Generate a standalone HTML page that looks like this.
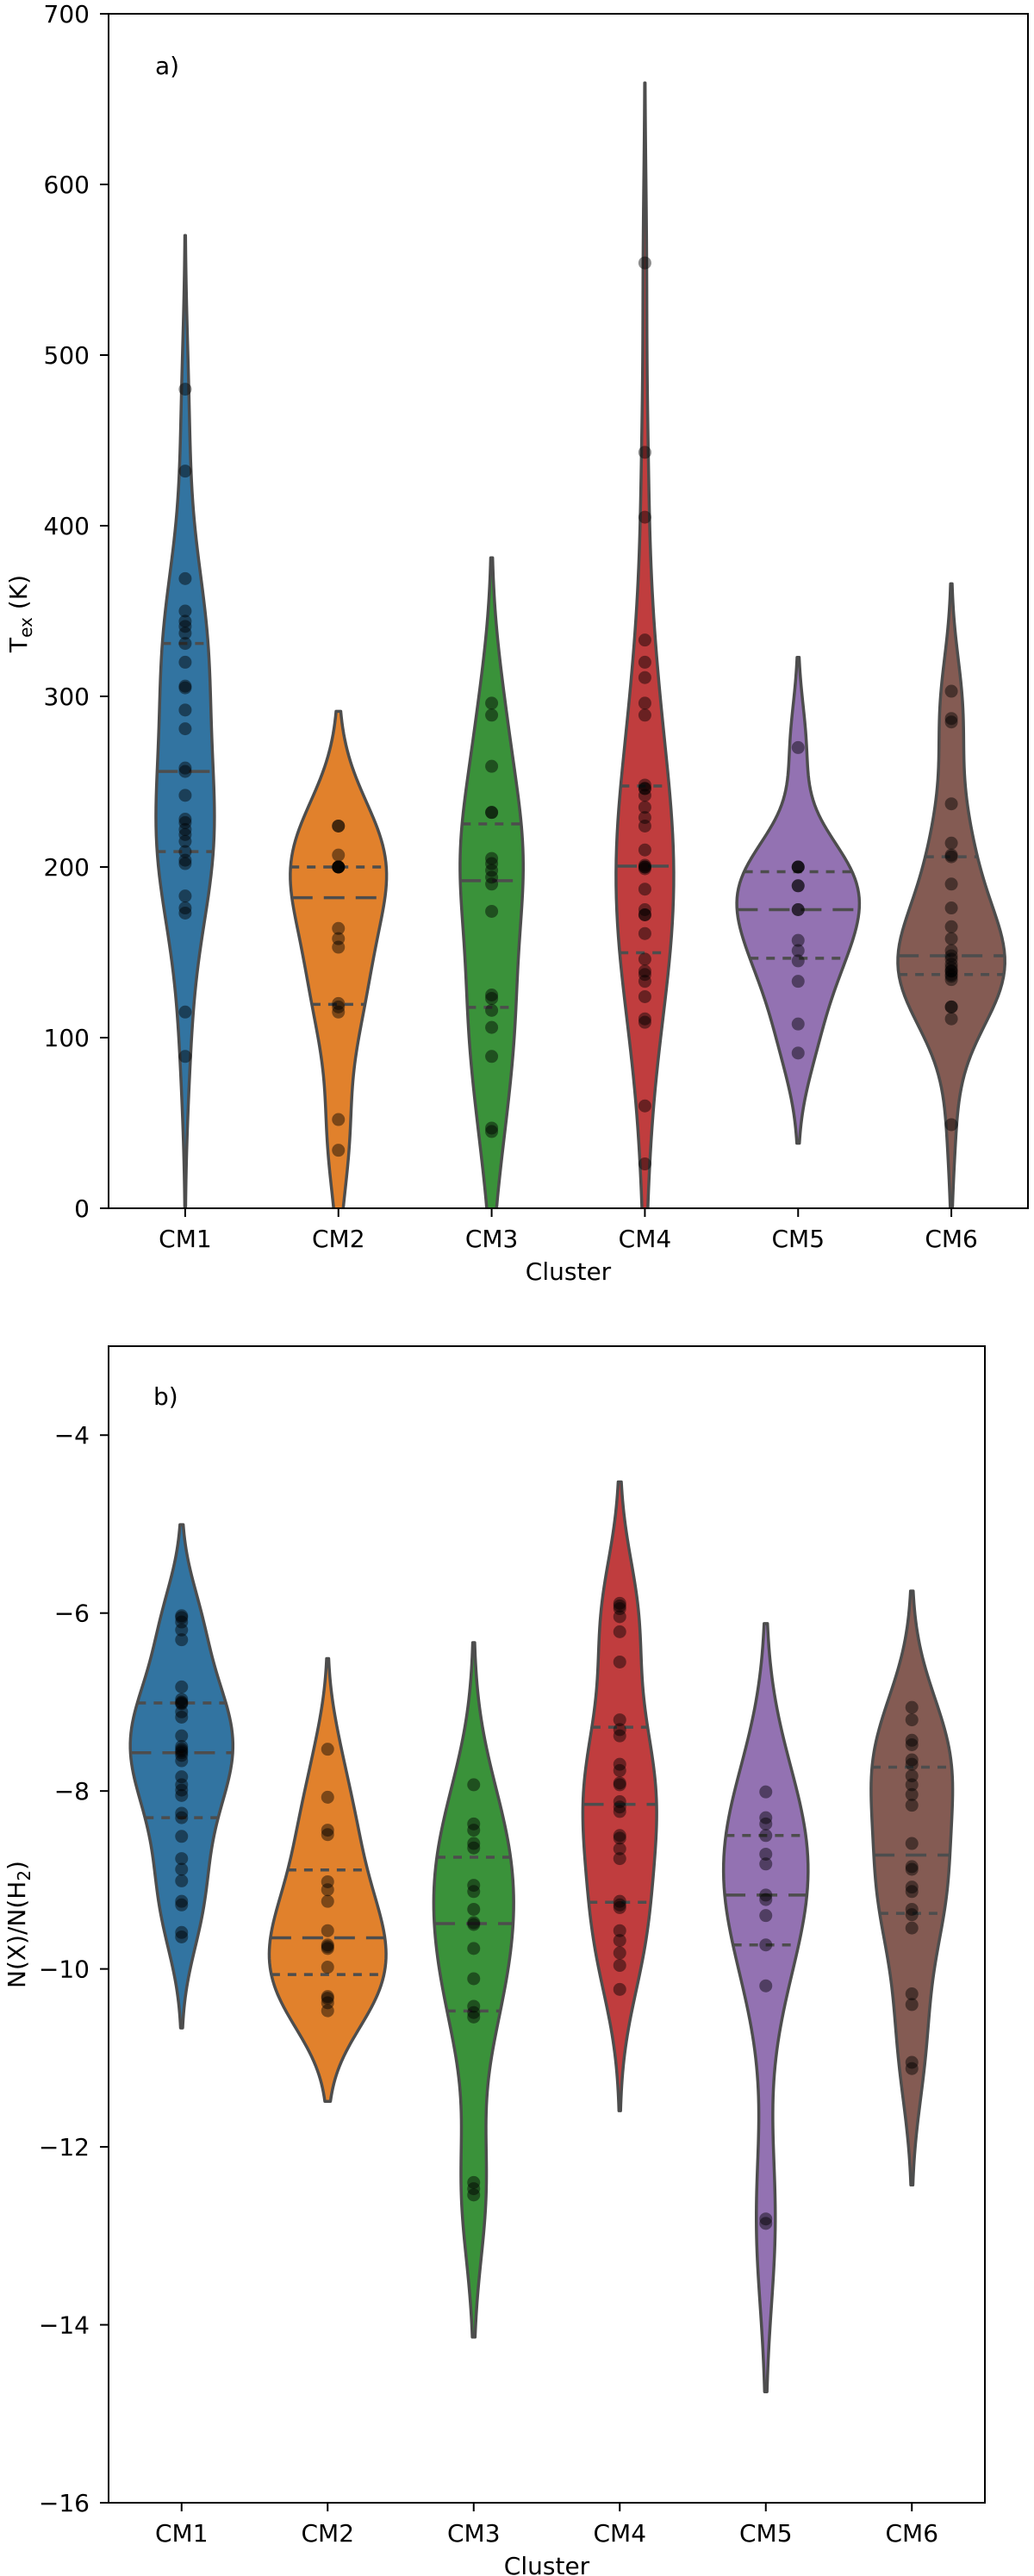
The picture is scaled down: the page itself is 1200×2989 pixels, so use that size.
<!DOCTYPE html>
<html><head><meta charset="utf-8">
<style>
html,body{margin:0;padding:0;background:#fff;}
svg{display:block;font-family:"DejaVu Sans","Liberation Sans",sans-serif;}
</style></head>
<body>
<svg id="fig" width="1200" height="2989" viewBox="0 0 1200 2989" xmlns="http://www.w3.org/2000/svg">
<rect width="1200" height="2989" fill="#fff"/>
</svg>
<script>
// ---- shared data ----
const categories = ["CM1","CM2","CM3","CM4","CM5","CM6"];
const colors = ["#3274a1","#e1812c","#3a923a","#c03d3e","#9372b2","#845b53"];

// ---- panel a: Tex (K) ----
const texCM1 = [480,432,369,350,344,341,337,331,320,306,305,292,281,258,256,242,228,226,222,219,215,209,204,202,183,176,173,115,89];
const texCM2 = [224,224,207,200,200,200,200,200,164,158,153,120,118,115,52,34];
const texCM3 = [296,289,259,232,232,205,202,198,194,190,174,125,123,116,106,89,47,45];
const texCM4 = [554,443,405,333,320,311,296,289,248,246,246,242,235,229,224,210,201,200,200,199,187,175,172,172,161,146,139,137,133,124,111,109,60,26];
const texCM5 = [270,200,200,200,189,189,175,175,157,151,145,133,108,91];
const texCM6 = [303,287,285,237,214,207,206,190,176,165,158,151,148,146,143,141,139,139,137,136,134,118,118,111,49];
const texTicks = [0,100,200,300,400,500,600,700];
const texTickLabels = ["0","100","200","300","400","500","600","700"];

// ---- panel b: N(X)/N(H2) ----
const abCM1 = [-6.03,-6.05,-6.10,-6.19,-6.30,-6.83,-6.97,-7.0,-7.01,-7.02,-7.11,-7.17,-7.38,-7.5,-7.53,-7.55,-7.57,-7.6,-7.66,-7.84,-7.93,-7.99,-8.05,-8.25,-8.30,-8.51,-8.76,-8.88,-9.01,-9.24,-9.28,-9.59,-9.64];
const abCM2 = [-7.53,-8.07,-8.44,-8.49,-9.02,-9.11,-9.24,-9.57,-9.73,-9.75,-9.77,-9.98,-10.31,-10.33,-10.38,-10.47];
const abCM3 = [-7.93,-8.37,-8.44,-8.59,-8.64,-9.06,-9.13,-9.33,-9.48,-9.50,-9.77,-10.11,-10.42,-10.49,-10.54,-12.40,-12.47,-12.54];
const abCM4 = [-5.89,-5.92,-5.95,-6.04,-6.21,-6.55,-7.20,-7.31,-7.38,-7.70,-7.77,-7.91,-7.93,-8.12,-8.18,-8.23,-8.50,-8.53,-8.65,-8.76,-9.24,-9.28,-9.31,-9.57,-9.68,-9.82,-9.96,-10.23];
const abCM5 = [-8.01,-8.30,-8.37,-8.50,-8.71,-8.82,-9.17,-9.22,-9.40,-9.73,-10.19,-12.81,-12.86];
const abCM6 = [-7.06,-7.20,-7.43,-7.48,-7.65,-7.70,-7.83,-7.93,-8.04,-8.16,-8.59,-8.85,-8.88,-9.08,-9.13,-9.33,-9.39,-9.54,-10.28,-10.40,-11.05,-11.12];
const abTicks = [-16,-14,-12,-10,-8,-6,-4];
const abTickLabels = ["\u221216","\u221214","\u221212","\u221210","\u22128","\u22126","\u22124"];

const NS = "http://www.w3.org/2000/svg";
const svg = document.getElementById("fig");
function mk(tag, attrs, parent){
  const e = document.createElementNS(NS, tag);
  for (const k in attrs) e.setAttribute(k, attrs[k]);
  (parent||svg).appendChild(e);
  return e;
}
function mean(a){return a.reduce((s,v)=>s+v,0)/a.length;}
function std(a){const m=mean(a);return Math.sqrt(a.reduce((s,v)=>s+(v-m)*(v-m),0)/(a.length-1));}
function pct(a,p){const s=[...a].sort((x,y)=>x-y);const i=p*(s.length-1);const lo=Math.floor(i),hi=Math.ceil(i);return s[lo]+(s[hi]-s[lo])*(i-lo);}
function kdeFn(a){
  const bw = std(a)*Math.pow(a.length,-0.2);
  const f = x => { let s=0; for(const v of a){const z=(x-v)/bw; s+=Math.exp(-0.5*z*z);} return s/(a.length*bw*Math.sqrt(2*Math.PI)); };
  return {f, bw};
}

function drawPanel(cfg){
  const {id, groups, ymin, ymax, left, right, top, bottom, ticks, tickLabels, ylabel, panelLabel, plx, ply, ylx, yly} = cfg;
  const g = mk("g", {});
  
  
  const n = categories.length;
  const step = (right-left)/n;
  const xc = i => left + step*(i+0.5);
  const ys = v => bottom - (v-ymin)/(ymax-ymin)*(bottom-top);
  const clip = mk("clipPath", {id: id+"-clip"}, g);
  mk("rect", {x:left, y:top, width:right-left, height:bottom-top}, clip);

  const kd = groups.map(a => {
    const {f,bw} = kdeFn(a);
    const lo = Math.min(...a)-2*bw, hi = Math.max(...a)+2*bw;
    const grid=[], dens=[];
    for(let k=0;k<100;k++){const y=lo+(hi-lo)*k/99; grid.push(y); dens.push(f(y));}
    return {f, grid, dens};
  });
  const maxD = Math.max(...kd.map(o=>Math.max(...o.dens)));
  const hw = d => d/maxD*0.4*step;

  const plot = mk("g", {"clip-path":"url(#"+id+"-clip)"}, g);
  groups.forEach((a,i)=>{
    const o = kd[i];
    const cx = xc(i);
    let dstr = "";
    o.grid.forEach((y,k)=>{ dstr += (k?"L":"M")+(cx+hw(o.dens[k])).toFixed(2)+","+ys(y).toFixed(2); });
    for(let k=o.grid.length-1;k>=0;k--){ dstr += "L"+(cx-hw(o.dens[k])).toFixed(2)+","+ys(o.grid[k]).toFixed(2); }
    dstr += "Z";
    const vg = mk("g", {}, plot);
    
    
    mk("path", {d:dstr, fill:colors[i], stroke:"#4d4d4d", "stroke-width":3.5, "stroke-linejoin":"round"}, vg);
    [[0.25,"10,9"],[0.5,"24,13"],[0.75,"10,9"]].forEach(([p,dash])=>{
      const q = pct(a,p); const w = hw(o.f(q));
      const ln = mk("line", {x1:cx-w, x2:cx+w, y1:ys(q), y2:ys(q), stroke:"#4d4d4d", "stroke-width":3.5, "stroke-dasharray":dash}, vg);
      
      
    });
    a.forEach(v=>{
      const c = mk("circle", {cx:cx, cy:ys(v), r:7.5, fill:"#000", "fill-opacity":0.45}, vg);
      
      
    });
  });

  const fr = mk("rect", {x:left, y:top, width:right-left, height:bottom-top, fill:"none", stroke:"#000", "stroke-width":2}, g);
  
  

  ticks.forEach((t,k)=>{
    const y = ys(t);
    mk("line", {x1:left-10, x2:left, y1:y, y2:y, stroke:"#000", "stroke-width":2}, g);
    const tx = mk("text", {x:left-22, y:y+10, "text-anchor":"end", "font-size":28, fill:"#000"}, g);
    tx.textContent = tickLabels[k];
    
    
  });
  categories.forEach((c,i)=>{
    const x = xc(i);
    mk("line", {x1:x, x2:x, y1:bottom, y2:bottom+10, stroke:"#000", "stroke-width":2}, g);
    const tx = mk("text", {x:x, y:bottom+45, "text-anchor":"middle", "font-size":28, fill:"#000"}, g);
    tx.textContent = c;
    
    
  });
  const xl = mk("text", {x:(left+right)/2, y:bottom+83, "text-anchor":"middle", "font-size":28, fill:"#000"}, g);
  xl.textContent = "Cluster";
  
  
  const pl = mk("text", {x:plx, y:ply, "font-size":28, fill:"#000"}, g);
  pl.textContent = panelLabel;
  
  
  const yl = mk("text", {x:ylx, y:yly, "text-anchor":"middle", "font-size":28, fill:"#000", transform:"rotate(-90 "+ylx+" "+yly+")"}, g);
  
  
  ylabel(yl);
}

drawPanel({id:"tex", groups:[texCM1,texCM2,texCM3,texCM4,texCM5,texCM6], ymin:0, ymax:700,
  left:126, right:1193, top:16, bottom:1402, ticks:texTicks, tickLabels:texTickLabels,
  panelLabel:"a)", plx:180, ply:86, ylx:31, yly:712,
  ylabel: el => { el.innerHTML = 'T<tspan font-size="20" dy="6">ex</tspan><tspan dy="-6"> (K)</tspan>'; }});

drawPanel({id:"abundance", groups:[abCM1,abCM2,abCM3,abCM4,abCM5,abCM6], ymin:-16, ymax:-3,
  left:126, right:1143, top:1562, bottom:2904, ticks:abTicks, tickLabels:abTickLabels,
  panelLabel:"b)", plx:178, ply:1630, ylx:29, yly:2233,
  ylabel: el => { el.innerHTML = 'N(X)/N(H<tspan font-size="20" dy="6">2</tspan><tspan dy="-6">)</tspan>'; }});
</script>
</body></html>
